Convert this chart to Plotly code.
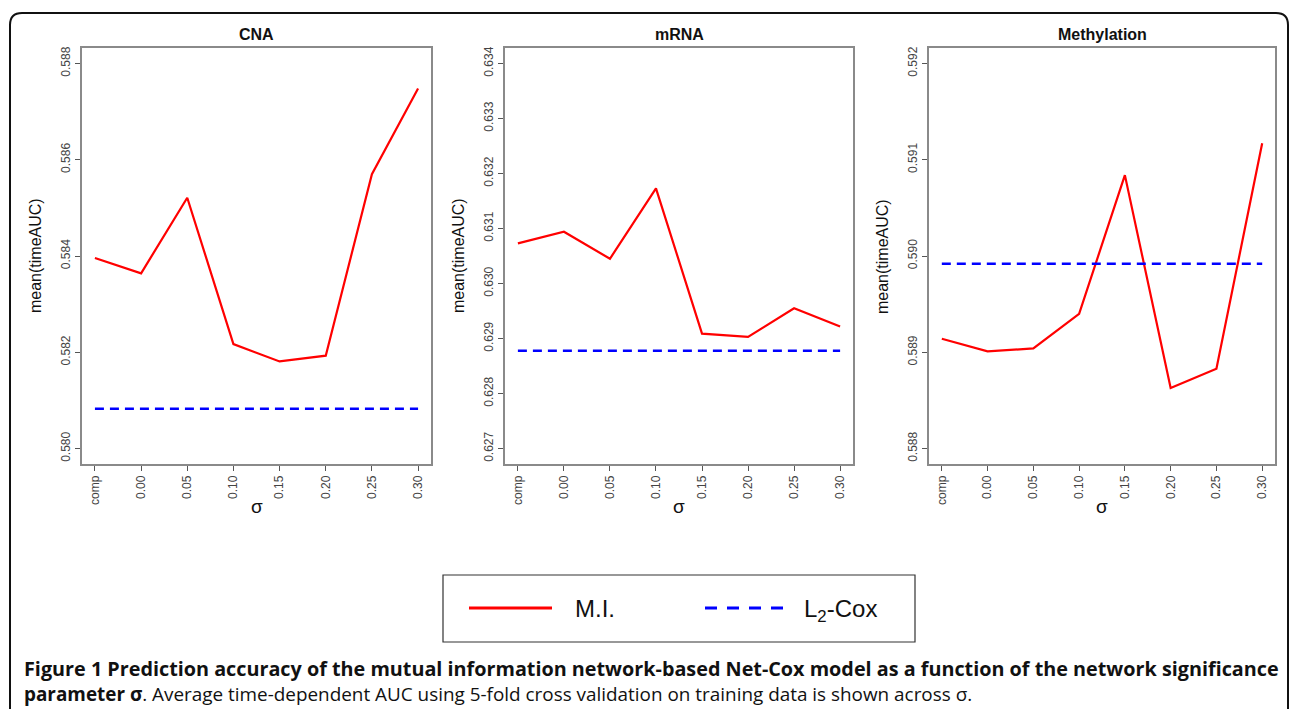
import plotly.graph_objects as go

W, H = 1290, 709

# ---------------- data ----------------
sigma_labels = ["comp", "0.00", "0.05", "0.10", "0.15", "0.20", "0.25", "0.30"]
panel_titles = ["CNA", "mRNA", "Methylation"]

cna_mi = [0.58396, 0.58364, 0.58521, 0.58217, 0.58181, 0.58193, 0.58570, 0.58748]
cna_l2 = 0.58083
mrna_mi = [0.63073, 0.63094, 0.63045, 0.63173, 0.62909, 0.62903, 0.62955, 0.62922]
mrna_l2 = 0.62878
meth_mi = [0.58914, 0.58901, 0.58904, 0.58940, 0.59084, 0.58863, 0.58883, 0.59117]
meth_l2 = 0.58992

cna_ticks = [0.580, 0.582, 0.584, 0.586, 0.588]
mrna_ticks = [0.627, 0.628, 0.629, 0.630, 0.631, 0.632, 0.633, 0.634]
meth_ticks = [0.588, 0.589, 0.590, 0.591, 0.592]

cna_lim = (0.580, 0.588)
mrna_lim = (0.627, 0.634)
meth_lim = (0.588, 0.592)

caption_bold_1 = "Figure 1 Prediction accuracy of the mutual information network-based Net-Cox model as a function of the network significance"
caption_bold_2 = "parameter σ"
caption_rest = ". Average time-dependent AUC using 5-fold cross validation on training data is shown across σ."

# ---------------- layout helpers ----------------
def px_x(x):
    return x / W

def px_y(y):
    return 1 - y / H

boxes = [(82, 431), (505, 853), (929, 1275)]
top_px, bot_px = 48, 464
panels = [
    (cna_mi, cna_l2, cna_ticks, cna_lim),
    (mrna_mi, mrna_l2, mrna_ticks, mrna_lim),
    (meth_mi, meth_l2, meth_ticks, meth_lim),
]

FONT = "Liberation Sans, Arial, sans-serif"
fig = go.Figure()
xs = list(range(len(sigma_labels)))

def ann(text, x, y, size, family=FONT, xanchor="center", yanchor="middle", angle=0, color="#111"):
    return dict(text=text, x=px_x(x), y=px_y(y), xref="paper", yref="paper",
                showarrow=False, xanchor=xanchor, yanchor=yanchor, textangle=angle,
                font=dict(family=family, size=size, color=color))

annotations = []
for i, ((mi, l2, ticks, lim), (x0, x1)) in enumerate(zip(panels, boxes)):
    sfx = "" if i == 0 else str(i + 1)
    xa, ya = "x" + sfx, "y" + sfx
    fig.add_trace(go.Scatter(x=xs, y=mi, mode="lines", name="M.I.",
                             line=dict(color="#FF0000", width=2.2),
                             xaxis=xa, yaxis=ya, showlegend=False))
    fig.add_trace(go.Scatter(x=[xs[0], xs[-1]], y=[l2, l2], mode="lines", name="L2-Cox",
                             line=dict(color="#0000FF", width=2.5, dash="9px,6px"),
                             xaxis=xa, yaxis=ya, showlegend=False))
    ext = (lim[1] - lim[0]) * 0.04
    xext = (len(xs) - 1) * 0.04
    fig.update_layout(**{
        "xaxis" + sfx: dict(
            domain=[px_x(x0), px_x(x1)], range=[-xext, len(xs) - 1 + xext],
            tickvals=xs, ticktext=sigma_labels, tickangle=-90,
            showline=True, mirror=True, linecolor="#8a8a8a", linewidth=1.5,
            ticks="outside", ticklen=5, tickcolor="#555", showgrid=False, zeroline=False,
            tickfont=dict(family=FONT, size=12, color="#444"), anchor=ya, automargin=False,
        ),
        "yaxis" + sfx: dict(
            domain=[px_y(bot_px), px_y(top_px)], range=[lim[0] - ext, lim[1] + ext],
            tickvals=ticks, ticktext=[f"{t:.3f}" for t in ticks], tickangle=-90,
            showline=True, mirror=True, linecolor="#8a8a8a", linewidth=1.5,
            ticks="outside", ticklen=5, tickcolor="#555", showgrid=False, zeroline=False,
            tickfont=dict(family=FONT, size=12, color="#444"), anchor=xa, automargin=False,
        ),
    })
    cx = (x0 + x1) / 2
    annotations.append(ann("<b>" + panel_titles[i] + "</b>", cx, 34, 16))
    annotations.append(ann("mean(timeAUC)", x0 - 47, 256, 16, angle=-90))
    annotations.append(ann("σ", cx, 506, 19))

# legend (drawn)
shapes = []
shapes.append(dict(type="rect", xref="paper", yref="paper",
                   x0=px_x(443), x1=px_x(915), y0=px_y(642), y1=px_y(575),
                   line=dict(color="#333", width=1.2), fillcolor="rgba(0,0,0,0)"))
shapes.append(dict(type="line", xref="paper", yref="paper",
                   x0=px_x(469), x1=px_x(552), y0=px_y(608), y1=px_y(608),
                   line=dict(color="#FF0000", width=3)))
shapes.append(dict(type="line", xref="paper", yref="paper",
                   x0=px_x(705), x1=px_x(786), y0=px_y(608), y1=px_y(608),
                   line=dict(color="#0000FF", width=3, dash="12px,10px")))
annotations.append(ann("M.I.", 573, 608, 24, xanchor="left"))
annotations.append(ann("L<sub>2</sub>-Cox", 802, 610, 24, xanchor="left"))

# outer rounded frame
r = 12
L, T, R, B = 10, 13, 1288, 740
path = (f"M {px_x(L)},{px_y(B)} L {px_x(L)},{px_y(T + r)} "
        f"Q {px_x(L)},{px_y(T)} {px_x(L + r)},{px_y(T)} "
        f"L {px_x(R - r)},{px_y(T)} Q {px_x(R)},{px_y(T)} {px_x(R)},{px_y(T + r)} "
        f"L {px_x(R)},{px_y(B)}")
shapes.append(dict(type="path", xref="paper", yref="paper", path=path,
                   line=dict(color="#111", width=2)))

# caption
CAP = "Open Sans, Noto Sans, sans-serif"
annotations.append(ann("<b>" + caption_bold_1 + "</b>", 22, 668, 19.8, family=CAP, xanchor="left"))
annotations.append(ann("<b>" + caption_bold_2 + "</b>" + caption_rest, 22, 694, 18.9, family=CAP, xanchor="left"))

fig.update_layout(width=W, height=H, margin=dict(l=0, r=0, t=0, b=0),
                  paper_bgcolor="white", plot_bgcolor="white",
                  annotations=annotations, shapes=shapes, showlegend=False)
fig.write_html("out.html", config={"displayModeBar": False},
               post_script="document.body.style.margin='0';document.body.style.overflow='hidden';")
